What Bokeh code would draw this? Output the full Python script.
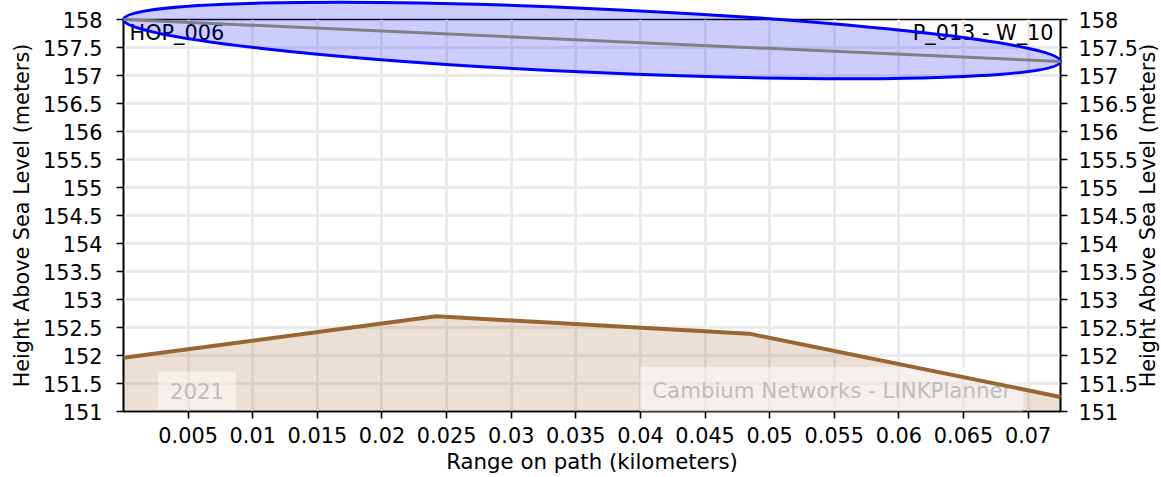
import math
from bokeh.plotting import figure
from bokeh.models import LinearAxis, FixedTicker, CustomJSTickFormatter, Label, Range1d
from bokeh.core.properties import value
from bokeh.embed import file_html
from bokeh.resources import INLINE

# ---------------- data ----------------
terrain_km = [0.0, 0.0242, 0.0484, 0.0725]
terrain_m = [151.96, 152.70, 152.39, 151.26]
los_km = [0.0, 0.0725]
los_m = [158.0, 157.25]
fresnel_half_m = 0.57
x_ticks = [0.005, 0.01, 0.015, 0.02, 0.025, 0.03, 0.035, 0.04, 0.045,
           0.05, 0.055, 0.06, 0.065, 0.07]
y_ticks = [151, 151.5, 152, 152.5, 153, 153.5, 154, 154.5, 155, 155.5,
           156, 156.5, 157, 157.5, 158]
site_a = "HOP_006"
site_b = "P_013 - W_10"
x_label = "Range on path (kilometers)"
y_label = "Height Above Sea Level (meters)"
watermark_year = "2021"
watermark_brand = "Cambium Networks - LINKPlanner"

FONT = "DejaVu Sans"
FS = "20.8px"
FS_TITLE = "21.3px"
W, H = 1160, 476
ML, MR, MT, MB = 123, 100, 19, 65
FRAME_W, FRAME_H = W - ML - MR, H - MT - MB

x_start, x_end = 0.0, 0.0725
y_start, y_end = 151.0, 158.0
y_mid = (y_start + y_end) / 2
x_mid = (x_start + x_end) / 2

p = figure(width=W, height=H, output_backend="svg", toolbar_location=None,
           x_range=Range1d(x_start, x_end), y_range=Range1d(y_start, y_end),
           min_border_top=MT, min_border_left=ML, min_border_right=MR, min_border_bottom=MB)
p.background_fill_color = "white"
p.border_fill_color = "white"
p.outline_line_color = "black"
p.outline_line_width = 1.6

fmt = CustomJSTickFormatter(code="return String(tick)")

def style_axis(ax, ticks, standoff):
    ax.ticker = FixedTicker(ticks=ticks)
    ax.formatter = fmt
    ax.major_label_text_font = FONT
    ax.major_label_text_font_size = FS
    ax.major_label_text_color = "black"
    ax.axis_line_color = "black"
    ax.axis_line_width = 1.6
    ax.major_tick_line_color = "black"
    ax.major_tick_line_width = 1.6
    ax.major_tick_out = 7
    ax.major_tick_in = 0
    ax.minor_tick_line_color = None
    ax.major_label_standoff = standoff

style_axis(p.xaxis[0], x_ticks, 8)
style_axis(p.yaxis[0], y_ticks, 14)
right_axis = LinearAxis()
style_axis(right_axis, y_ticks, 11)
p.add_layout(right_axis, "right")

p.xgrid.ticker = FixedTicker(ticks=x_ticks)
p.ygrid.ticker = FixedTicker(ticks=y_ticks)
for g in (p.xgrid[0], p.ygrid[0]):
    g.grid_line_color = "#ebebeb"
    g.grid_line_width = 3

# axis titles drawn as unclipped text glyphs
txt_kw = dict(text_font=value(FONT), text_color="black",
              text_baseline="alphabetic", text_align="center", level="overlay")
p.text(x=[x_mid], y=[y_start], text=[x_label], y_offset=50,
       text_font_size=value(FS_TITLE), **txt_kw)
p.text(x=[x_start], y=[y_mid], text=[y_label], x_offset=-102, angle=math.pi / 2,
       text_font_size=value(FS), **txt_kw)
p.text(x=[x_end], y=[y_mid], text=[y_label], x_offset=87, angle=math.pi / 2,
       text_font_size=value(FS), **txt_kw)

# terrain fill
p.varea(x=terrain_km, y1=[y_start] * len(terrain_km), y2=terrain_m,
        fill_color="#996633", fill_alpha=0.2)

# watermarks
for txt, xc in ((watermark_year, 0.00569), (watermark_brand, 0.0548)):
    p.add_layout(Label(x=xc, y=151.375, text=txt, text_align="center",
                       text_baseline="middle", text_font=FONT, text_font_size=FS_TITLE,
                       text_color="#bdbdbd",
                       background_fill_color="white", background_fill_alpha=0.5,
                       padding=(12, 11)))

# terrain line
p.line(terrain_km, terrain_m, line_color="#996633", line_width=4, level="overlay")

# fresnel ellipse
px_x = FRAME_W / (x_end - x_start)
px_y = FRAME_H / (y_end - y_start)
dx = (los_km[1] - los_km[0]) * px_x
dy = (los_m[1] - los_m[0]) * px_y
ang = math.atan2(dy, dx)
length_px = math.hypot(dx, dy)
p.ellipse(x=[(los_km[0] + los_km[1]) / 2], y=[(los_m[0] + los_m[1]) / 2],
          width=[length_px / px_x], height=[2 * fresnel_half_m], angle=[ang],
          fill_color="#0000ff", fill_alpha=0.2, line_color="#0000ff", line_width=3,
          level="overlay")

# line of sight
p.line(los_km, los_m, line_color="#808080", line_width=3, level="overlay")

# site labels
p.add_layout(Label(x=x_start, y=y_end, text=site_a, x_offset=6, y_offset=-13.5,
                   text_align="left", text_baseline="alphabetic",
                   text_font=FONT, text_font_size=FS, text_color="black"))
p.add_layout(Label(x=x_end, y=y_end, text=site_b, x_offset=-7, y_offset=-13.5,
                   text_align="right", text_baseline="alphabetic",
                   text_font=FONT, text_font_size=FS, text_color="black"))

open("out.html", "w").write(file_html(p, INLINE))
